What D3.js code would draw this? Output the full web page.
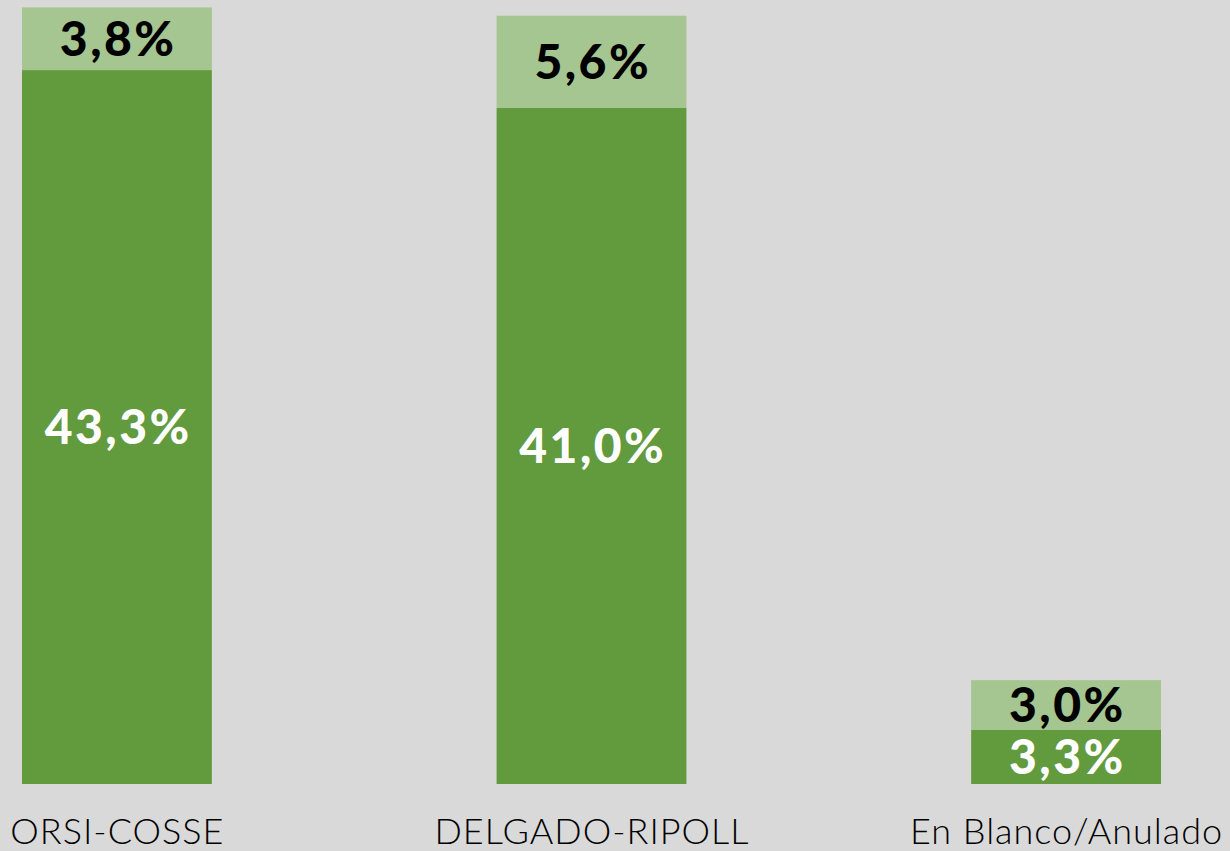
<!DOCTYPE html>
<html lang="es">
<head>
  <meta charset="UTF-8">
  <title>Chart</title>
  <style type="text/css">
    body { margin:0; background:#d9d9d9; }
    svg { display:block; }
  </style>
  <script src="https://d3js.org/d3.v7.min.js"></script>
</head>
<body>
  <svg></svg>
  <script>
    // data
    const categories = ["ORSI-COSSE", "DELGADO-RIPOLL", "En Blanco/Anulado"];
    const base = [43.3, 41.0, 3.3];
    const extra = [3.8, 5.6, 3.0];

    const W = 1230, H = 851;
    const svg = d3.select("svg").attr("width", W).attr("height", H);

    const x = d3.scaleBand()
      .domain(categories)
      .range([22, 1161])
      .paddingInner(0.6)
      .paddingOuter(0);

    const y = d3.scaleLinear()
      .domain([0, 47.55])
      .range([784, 0]);

    const fmt = v => v.toFixed(1).replace(".", ",") + "%";

    const rows = categories.map((c, i) => ({ c, b: base[i], e: extra[i] }));

    const g = svg.append("g");

    // dark (base) bars
    g.selectAll("rect.base").data(rows).enter().append("rect")
      .attr("class", "base")
      .attr("x", d => x(d.c))
      .attr("width", x.bandwidth())
      .attr("y", d => y(d.b))
      .attr("height", d => y(0) - y(d.b))
      .attr("fill", "#629a3e");

    // light (extra) bars on top
    g.selectAll("rect.extra").data(rows).enter().append("rect")
      .attr("class", "extra")
      .attr("x", d => x(d.c))
      .attr("width", x.bandwidth())
      .attr("y", d => y(d.b + d.e))
      .attr("height", d => y(d.b) - y(d.b + d.e))
      .attr("fill", "#a5c690");

    const font = "Lato, 'Noto Sans', sans-serif";
    const cx = c => x(c) + x.bandwidth() / 2 + 1.25;

    // labels inside bars
    g.selectAll("text.lb").data(rows).enter().append("text")
      .attr("x", d => cx(d.c))
      .attr("y", d => (y(0) + y(d.b)) / 2)
      .attr("dy", "0.36em")
      .attr("text-anchor", "middle")
      .attr("font-family", font)
      .attr("font-weight", 900)
      .attr("font-size", 48)
      .attr("letter-spacing", 2.5)
      .attr("fill", "#ffffff")
      .text(d => fmt(d.b));

    g.selectAll("text.le").data(rows).enter().append("text")
      .attr("x", d => cx(d.c))
      .attr("y", d => (y(d.b) + y(d.b + d.e)) / 2)
      .attr("dy", "0.36em")
      .attr("text-anchor", "middle")
      .attr("font-family", font)
      .attr("font-weight", 900)
      .attr("font-size", 48)
      .attr("letter-spacing", 2.5)
      .attr("fill", "#000000")
      .text(d => fmt(d.e));

    // category axis labels
    g.selectAll("text.cat").data(categories).enter().append("text")
      .attr("x", d => x(d) + x.bandwidth() / 2 + 0.5)
      .attr("y", 844)
      .attr("text-anchor", "middle")
      .attr("font-family", font)
      .attr("font-weight", 300)
      .attr("font-size", 36)
      .attr("letter-spacing", 1)
      .attr("fill", "#000000")
      .text(d => d);
  </script>
</body>
</html>
